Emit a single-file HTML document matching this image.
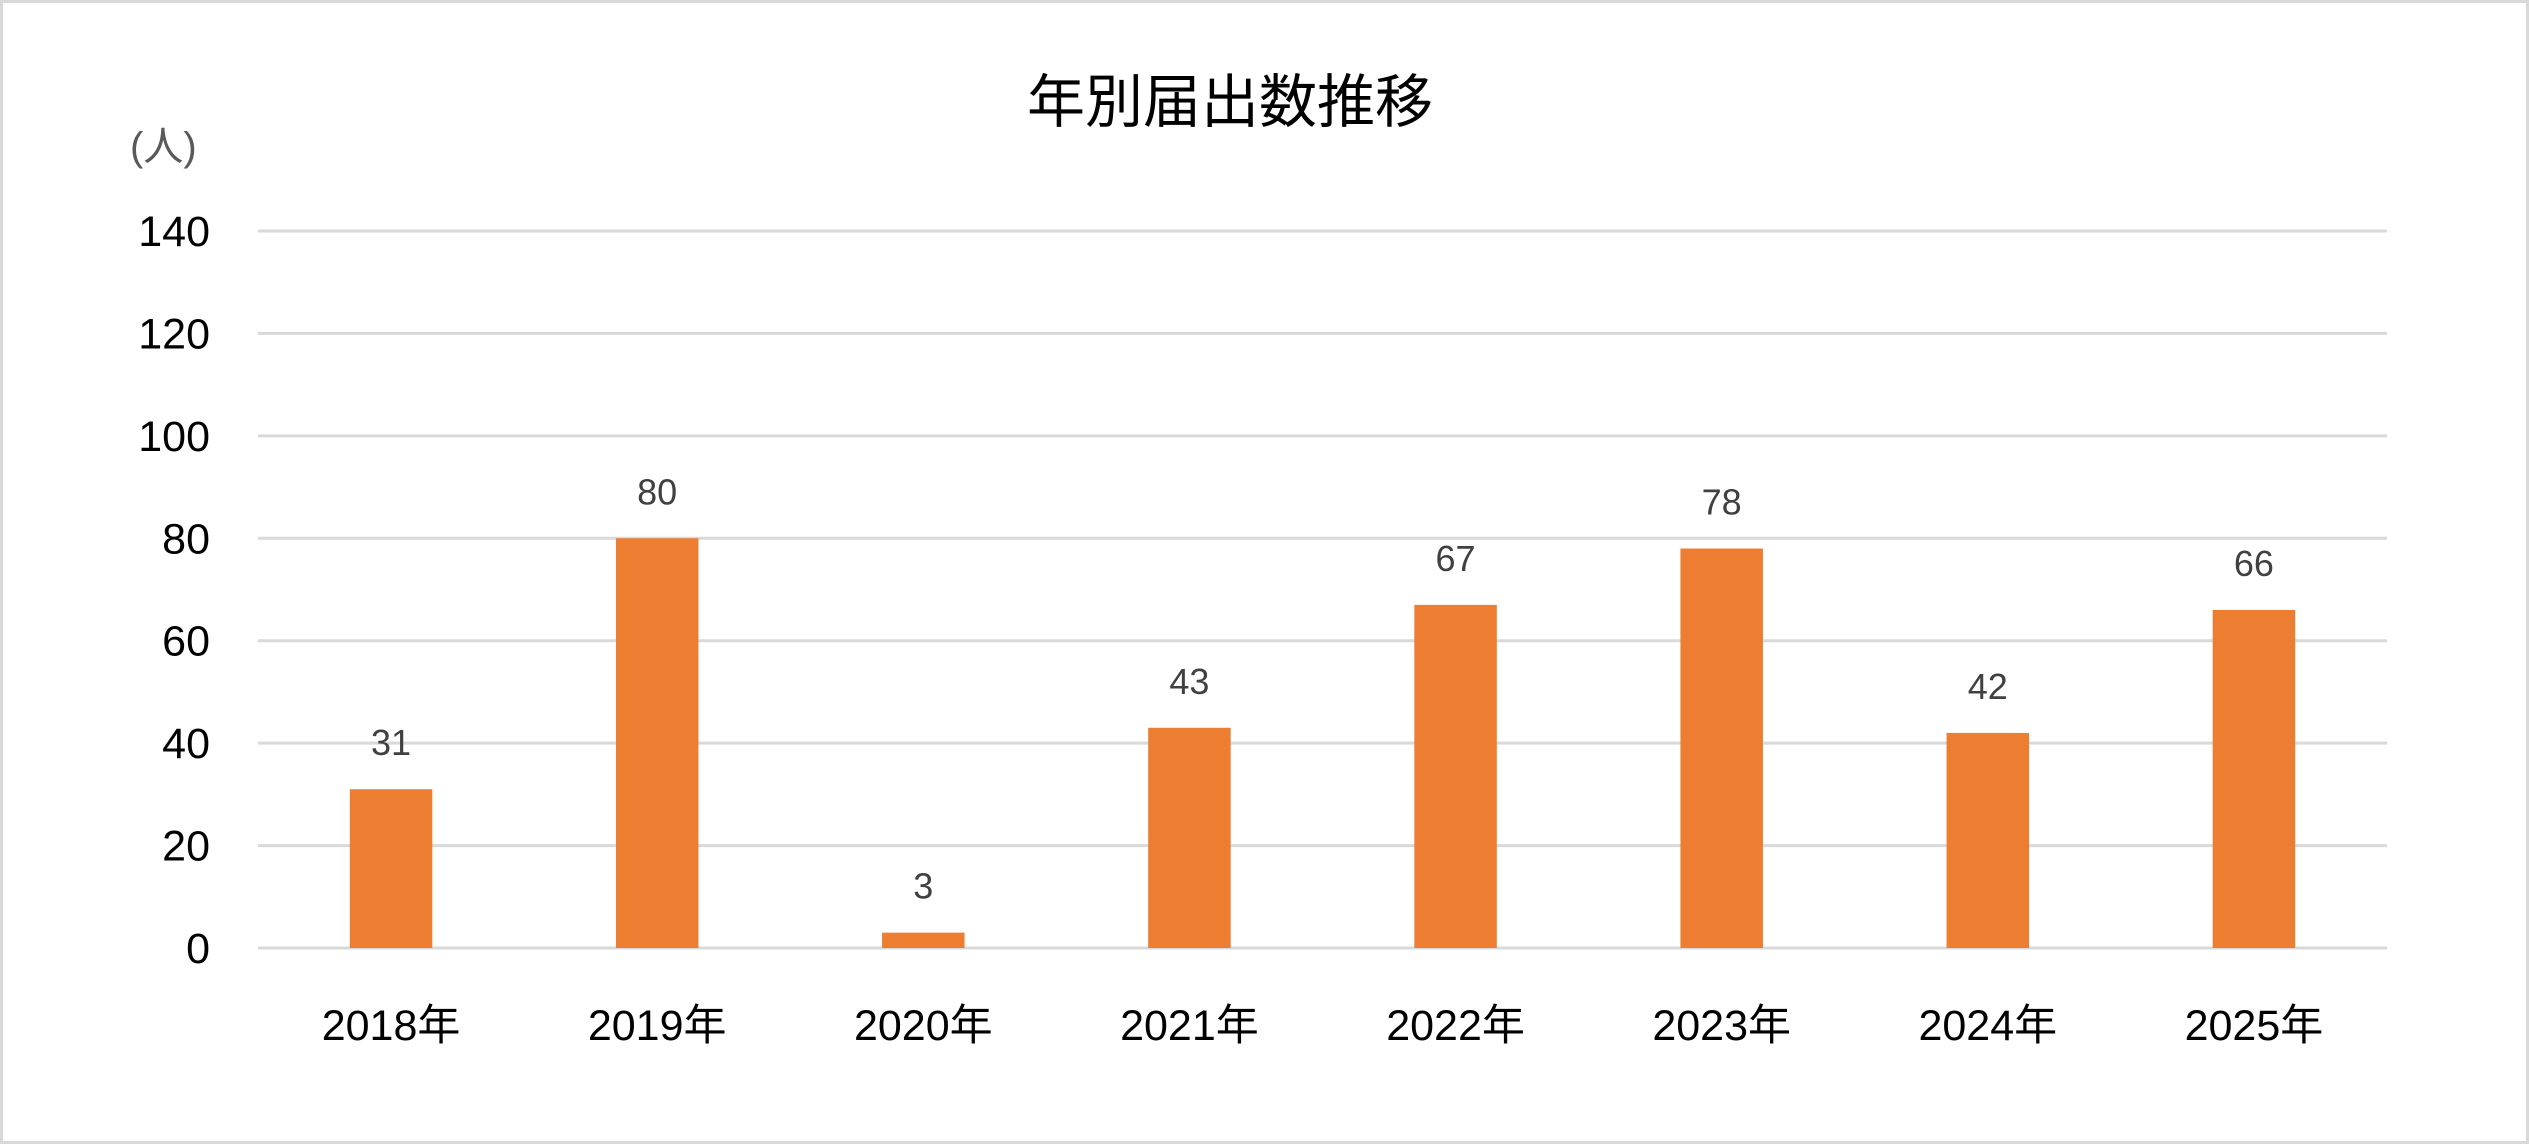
<!DOCTYPE html>
<html><head><meta charset="utf-8"><style>
html,body{margin:0;padding:0;background:#fff}
svg{display:block}
text{font-family:"Liberation Sans","Noto Sans CJK JP",sans-serif}
</style></head><body>
<svg id="chart" width="2529" height="1144" viewBox="0 0 2529 1144" xmlns="http://www.w3.org/2000/svg">
<rect x="1.5" y="1.5" width="2526" height="1141" fill="#fff" stroke="#d9d9d9" stroke-width="3"/>
<text x="1230" y="122" font-size="58" text-anchor="middle" fill="#000">年別届出数推移</text>
<text x="130" y="160" font-size="40" fill="#595959">(人)</text>
<g id="grid"></g>
<g id="yticks"></g>
<g id="bars"></g>
<g id="labels"></g>
<g id="xticks"></g>
</svg>
<script>
const categories=["2018年","2019年","2020年","2021年","2022年","2023年","2024年","2025年"];
const values=[31,80,3,43,67,78,42,66];
const yTicks=[0,20,40,60,80,100,120,140];
const L=258,R=2387,T=231,B=948,yMax=140;
const ns="http://www.w3.org/2000/svg";
const y=v=>B-(v/yMax)*(B-T);
const band=(R-L)/categories.length;
const xc=i=>L+band*(i+0.5);
const bw=band*0.31;
function mk(tag,attrs,parent){const e=document.createElementNS(ns,tag);for(const k in attrs)e.setAttribute(k,attrs[k]);parent.appendChild(e);return e;}
const grid=document.getElementById('grid'),yt=document.getElementById('yticks'),bars=document.getElementById('bars'),labs=document.getElementById('labels'),xt=document.getElementById('xticks');
yTicks.forEach(v=>{
  const l=mk('line',{x1:L,x2:R,y1:y(v),y2:y(v),stroke:'#d9d9d9','stroke-width':3},grid);
  
  
  const t=mk('text',{x:210,y:y(v)+15,'font-size':43,'text-anchor':'end',fill:'#000'},yt);
  t.textContent=v;
  
  
});
categories.forEach((c,i)=>{
  const v=values[i];
  const r=mk('rect',{x:xc(i)-bw/2,y:y(v),width:bw,height:B-y(v),fill:'#ed7d31'},bars);
  
  
  const t=mk('text',{x:xc(i),y:y(v)-34,'font-size':36,'text-anchor':'middle',fill:'#404040'},labs);
  t.textContent=v;
  
  
  const x=mk('text',{x:xc(i),y:1040,'font-size':43,'text-anchor':'middle',fill:'#000'},xt);
  x.textContent=c;
  
  
});
</script>
</body></html>
